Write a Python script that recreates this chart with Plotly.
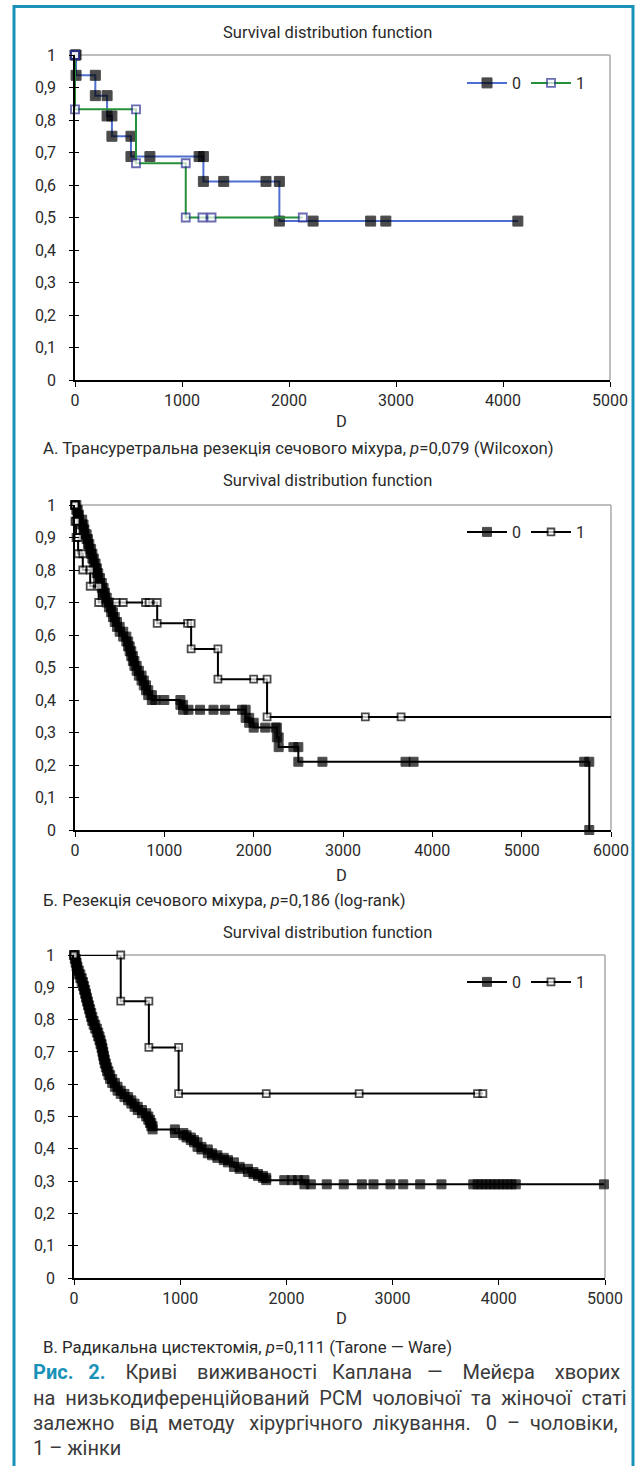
import plotly.graph_objects as go

# ---------------- data ----------------
# Panel A: transurethral resection
A0_x = [0, 10, 190, 300, 345, 523, 700, 1160, 1200, 1390, 1785, 1910, 2225, 2763, 2905, 4139]
A0_y = [1.0, 0.9375, 0.875, 0.8125, 0.75, 0.6875, 0.6875, 0.6875, 0.611, 0.611, 0.611, 0.489, 0.489, 0.489, 0.489, 0.489]
A1_x = [0, 0, 570, 1035, 1191, 1276, 2129]
A1_y = [1.0, 0.833, 0.667, 0.5, 0.5, 0.5, 0.5]

# Panel B: bladder resection
B0_x = [0, 15, 30, 45, 80, 95, 105, 130, 145, 160, 180, 195, 210, 230, 245, 260, 280, 300, 320, 335,
        355, 380, 405, 425, 445, 470, 500, 540, 575, 595, 612, 630, 648, 665, 690, 715, 745, 770, 795, 820,
        860, 900, 1000, 1180, 1210, 1270, 1400, 1550, 1680, 1870, 1910, 1950, 2000, 2130, 2245, 2260, 2280,
        2445, 2500, 2770, 3700, 3790, 5700, 5757]
B0_y = [1.0, 0.985, 0.97, 0.955, 0.94, 0.925, 0.91, 0.895, 0.88, 0.865, 0.85, 0.835, 0.82, 0.805, 0.79,
        0.775, 0.76, 0.745, 0.73, 0.715, 0.70, 0.685, 0.67, 0.655, 0.64, 0.625, 0.61, 0.595, 0.58, 0.565,
        0.55, 0.535, 0.52, 0.505, 0.49, 0.475, 0.46, 0.445, 0.43, 0.415, 0.40, 0.40, 0.40, 0.385, 0.37,
        0.37, 0.37, 0.37, 0.37, 0.37, 0.345, 0.33, 0.315, 0.315, 0.315, 0.285, 0.255, 0.255, 0.21, 0.21,
        0.21, 0.21, 0.21, 0.0]
B1_x = [0, 0, 12, 35, 87, 170, 265, 460, 540, 790, 830, 920, 1260, 1300, 1600, 2000, 2150, 3250, 3650]
B1_y = [1.0, 0.95, 0.90, 0.85, 0.80, 0.75, 0.70, 0.70, 0.70, 0.70, 0.70, 0.636, 0.636, 0.557, 0.464,
        0.464, 0.348, 0.348, 0.348]
B1_end = 6000

# Panel C: radical cystectomy
C0_x = [0, 8, 16, 24, 32, 45, 60, 72, 85, 95, 105, 113, 122, 132, 142, 152, 162, 172, 185, 200, 215,
        228, 240, 250, 260, 268, 275, 282, 290, 300, 312, 325, 340, 360, 385, 410, 440, 475, 510, 540,
        570, 600, 640, 680, 700, 715, 728, 740, 950, 1030, 1060, 1100, 1130, 1163, 1200, 1260, 1300,
        1350, 1410, 1450, 1506, 1560, 1638, 1690, 1733, 1780, 1810, 1980, 2050, 2110, 2170, 2230, 2380,
        2540, 2710, 2820, 2980, 3100, 3260, 3460, 3760, 3800, 3840, 3880, 3920, 3960, 4000, 4040, 4080,
        4120, 4160, 4990]
C0_y = [1.0, 0.988, 0.976, 0.964, 0.952, 0.94, 0.928, 0.916, 0.904, 0.892, 0.88, 0.868, 0.856, 0.844,
        0.832, 0.82, 0.808, 0.796, 0.784, 0.772, 0.76, 0.748, 0.736, 0.724, 0.712, 0.70, 0.688, 0.676,
        0.664, 0.652, 0.64, 0.628, 0.616, 0.604, 0.592, 0.58, 0.57, 0.56, 0.55, 0.54, 0.53, 0.52, 0.51,
        0.50, 0.49, 0.48, 0.47, 0.46, 0.449, 0.442, 0.435, 0.427, 0.42, 0.406, 0.398, 0.386, 0.38, 0.372,
        0.365, 0.358, 0.344, 0.338, 0.328, 0.322, 0.316, 0.31, 0.303, 0.303, 0.303, 0.303, 0.29, 0.29,
        0.29, 0.29, 0.29, 0.29, 0.29, 0.29, 0.29, 0.29, 0.29, 0.29, 0.29, 0.29, 0.29, 0.29, 0.29, 0.29,
        0.29, 0.29, 0.29, 0.29]
C1_x = [0, 440, 705, 985, 1810, 2685, 3800, 3850]
C1_y = [1.0, 0.857, 0.714, 0.571, 0.571, 0.571, 0.571, 0.571]

Y_TICKS = [0, 0.1, 0.2, 0.3, 0.4, 0.5, 0.6, 0.7, 0.8, 0.9, 1.0]
Y_TICKTEXT = ["0", "0,1", "0,2", "0,3", "0,4", "0,5", "0,6", "0,7", "0,8", "0,9", "1"]
X_TICKS_5000 = [0, 1000, 2000, 3000, 4000, 5000]
X_TICKS_6000 = [0, 1000, 2000, 3000, 4000, 5000, 6000]
SERIES_NAMES = ["0", "1"]

TITLE = "Survival distribution function"
CAP_A = "А. Трансуретральна резекція сечового міхура, <i>p</i>=0,079 (Wilcoxon)"
CAP_B = "Б. Резекція сечового міхура, <i>p</i>=0,186 (log-rank)"
CAP_C = "В. Радикальна цистектомія, <i>p</i>=0,111 (Tarone — Ware)"
FIG_HEAD = ["Рис.", "2."]
FIG_LINE1 = ["Криві", "виживаності", "Каплана", "—", "Мейєра", "хворих"]
FIG_LINE2 = ["на", "низькодиференційований", "РСМ", "чоловічої", "та", "жіночої", "статі"]
FIG_LINE3 = ["залежно", "від", "методу", "хірургічного", "лікування.", "0", "–", "чоловіки,"]
FIG_LINE4 = ["1", "–", "жінки"]

# ---------------- helpers ----------------
W, H = 641, 1466
FONT = "Roboto, sans-serif"
CAPFONT = "Roboto, sans-serif"
TEAL = "#1a92b8"
TXT = "#2a2a2a"
CAPTXT = "#3a3a3a"


def fx(p):
    return p / W


def fy(p):
    return 1 - p / H


def km_path(xs, ys):
    px, py = [xs[0]], [ys[0]]
    for x, y in zip(xs[1:], ys[1:]):
        if y != py[-1]:
            px.append(x)
            py.append(py[-1])
        px.append(x)
        py.append(y)
    return px, py


fig = go.Figure()


def add_series(xs, ys, xa, ya, legend, name, line_color, filled, mcolor, msize, end_x=None):
    px, py = km_path(xs, ys)
    sizes = [msize] * len(px)
    if end_x is not None:
        px = px + [end_x]
        py = py + [py[-1]]
        sizes = sizes + [0]
    if filled:
        marker = dict(symbol="square", size=sizes, color=mcolor, line=dict(color=mcolor, width=1))
    else:
        marker = dict(symbol="square", size=sizes, color="white", line=dict(color=mcolor, width=1.8))
    fig.add_trace(go.Scatter(x=px, y=py, mode="lines+markers", name=name, xaxis=xa, yaxis=ya,
                             legend=legend, cliponaxis=False,
                             line=dict(color=line_color, width=2), marker=marker))


BLUE = "#4f6fd0"
GREEN = "#24903a"
NAVY = "#2b2f8f"

add_series(A0_x, A0_y, "x", "y", "legend", SERIES_NAMES[0], BLUE, True, "black", 10)
add_series(A1_x, A1_y, "x", "y", "legend", SERIES_NAMES[1], GREEN, False, NAVY, 8)
add_series(B0_x, B0_y, "x2", "y2", "legend2", SERIES_NAMES[0], "black", True, "black", 9)
add_series(B1_x, B1_y, "x2", "y2", "legend2", SERIES_NAMES[1], "black", False, "black", 7, end_x=B1_end)
add_series(C0_x, C0_y, "x3", "y3", "legend3", SERIES_NAMES[0], "black", True, "black", 9)
add_series(C1_x, C1_y, "x3", "y3", "legend3", SERIES_NAMES[1], "black", False, "black", 7)

# invisible traces for overlay axes (inner half of crossing y ticks)
for xa, ya in [("x", "y4"), ("x2", "y5"), ("x3", "y6")]:
    fig.add_trace(go.Scatter(x=[None], y=[None], xaxis=xa, yaxis=ya, showlegend=False,
                             hoverinfo="skip", mode="lines"))

panels = [
    ("xaxis", "yaxis", 75, 610, 55, 380, X_TICKS_5000, "y", "x"),
    ("xaxis2", "yaxis2", 75, 611, 505, 830, X_TICKS_6000, "y2", "x2"),
    ("xaxis3", "yaxis3", 74, 605, 955, 1278, X_TICKS_5000, "y3", "x3"),
]

tickfont = dict(family=FONT, size=16, color=TXT)
layout = {}
shapes = []
for i, (xk, yk, l, r, t, b, xt, yref, xref) in enumerate(panels):
    layout[xk] = dict(domain=[fx(l), fx(r)], range=[0, xt[-1]], tickvals=xt,
                      ticktext=[str(v) for v in xt], showline=True, linecolor="black", linewidth=1.5,
                      ticks="outside", ticklen=5, tickwidth=1.3, tickcolor="black", showgrid=False,
                      zeroline=False, tickfont=tickfont, anchor=yref, fixedrange=True, automargin=False)
    layout[yk] = dict(domain=[fy(b), fy(t)], range=[0, 1], tickvals=Y_TICKS, ticktext=Y_TICKTEXT,
                      showline=True, linecolor="black", linewidth=1.5, ticks="outside", ticklen=4,
                      tickwidth=1.3, tickcolor="black", showgrid=False, zeroline=False,
                      tickfont=tickfont, anchor=xref, fixedrange=True, ticklabelstandoff=10,
                      automargin=False)
    ov = "yaxis%d" % (i + 4)
    layout[ov] = dict(domain=[fy(b), fy(t)], range=[0, 1], overlaying=yref, tickvals=Y_TICKS,
                      showticklabels=False, ticks="inside", ticklen=4, tickwidth=1.3,
                      tickcolor="black", showline=False, showgrid=False, zeroline=False,
                      anchor=xref, fixedrange=True, automargin=False)
    xd = xref + " domain"
    yd = yref + " domain"
    shapes.append(dict(type="line", xref=xd, yref=yd, x0=0, x1=1, y0=1, y1=1,
                       line=dict(color="#a8a8a8", width=1.5), layer="below"))
    shapes.append(dict(type="line", xref=xd, yref=yd, x0=1, x1=1, y0=0, y1=1,
                       line=dict(color="#a8a8a8", width=1.5), layer="below"))

# outer teal frame
shapes.append(dict(type="rect", xref="paper", yref="paper", x0=fx(14), x1=fx(633), y0=fy(1475),
                   y1=fy(6.5), line=dict(color=TEAL, width=3), fillcolor="rgba(0,0,0,0)"))

annotations = []


def ann(text, x, y, size, family=FONT, color=TXT, xanchor="center"):
    annotations.append(dict(text=text, x=fx(x), y=fy(y), xref="paper", yref="paper",
                            showarrow=False, xanchor=xanchor, yanchor="middle",
                            font=dict(family=family, size=size, color=color)))


for ty in [32, 480, 932]:
    ann(TITLE, 327, ty, 16.5)
for dy in [422, 875, 1318]:
    ann("D", 341, dy, 16.5)
ann(CAP_A, 41, 448, 16.8, xanchor="left")
ann(CAP_B, 41, 900, 16.8, xanchor="left")
ann(CAP_C, 41, 1347, 16.8, xanchor="left")

NB = "\u00a0"


def spaced(words, gaps):
    out = words[0]
    for w, g in zip(words[1:], gaps):
        out += NB * g + w
    return out


head = "<span style='color:%s'><b>%s</b></span>" % (TEAL, spaced(FIG_HEAD, [3]))
l1 = head + NB * 4 + spaced(FIG_LINE1, [4, 3, 3, 4, 4])
l2 = (" " + NB).join(FIG_LINE2)
l3 = spaced(FIG_LINE3, [3, 2, 3, 2, 3, 2, 2])
l4 = " ".join(FIG_LINE4)
CAPSIZE = 20
ann(l1, 31, 1372, CAPSIZE, family=CAPFONT, color=CAPTXT, xanchor="left")
ann(l2, 31, 1398, CAPSIZE, family=CAPFONT, color=CAPTXT, xanchor="left")
ann(l3, 31, 1423, CAPSIZE, family=CAPFONT, color=CAPTXT, xanchor="left")
ann(l4, 31, 1448, CAPSIZE, family=CAPFONT, color=CAPTXT, xanchor="left")

legend_common = dict(orientation="h", xanchor="left", yanchor="middle", bgcolor="rgba(0,0,0,0)",
                     font=dict(family=FONT, size=16, color=TXT), itemwidth=40, traceorder="normal")

fig.update_layout(
    width=W, height=H, margin=dict(l=0, r=0, t=0, b=0, autoexpand=False),
    paper_bgcolor="white", plot_bgcolor="white",
    showlegend=True,
    legend=dict(x=fx(462), y=fy(83), **legend_common),
    legend2=dict(x=fx(462), y=fy(532), **legend_common),
    legend3=dict(x=fx(462), y=fy(982), **legend_common),
    shapes=shapes, annotations=annotations,
    **layout,
)

# remove the browser's default 8px body margin so the 641x1466 figure fills the window
fig.write_html("out.html", config={"displayModeBar": False},
               post_script="document.body.style.margin='0';"
                           "document.documentElement.style.overflow='hidden';")
